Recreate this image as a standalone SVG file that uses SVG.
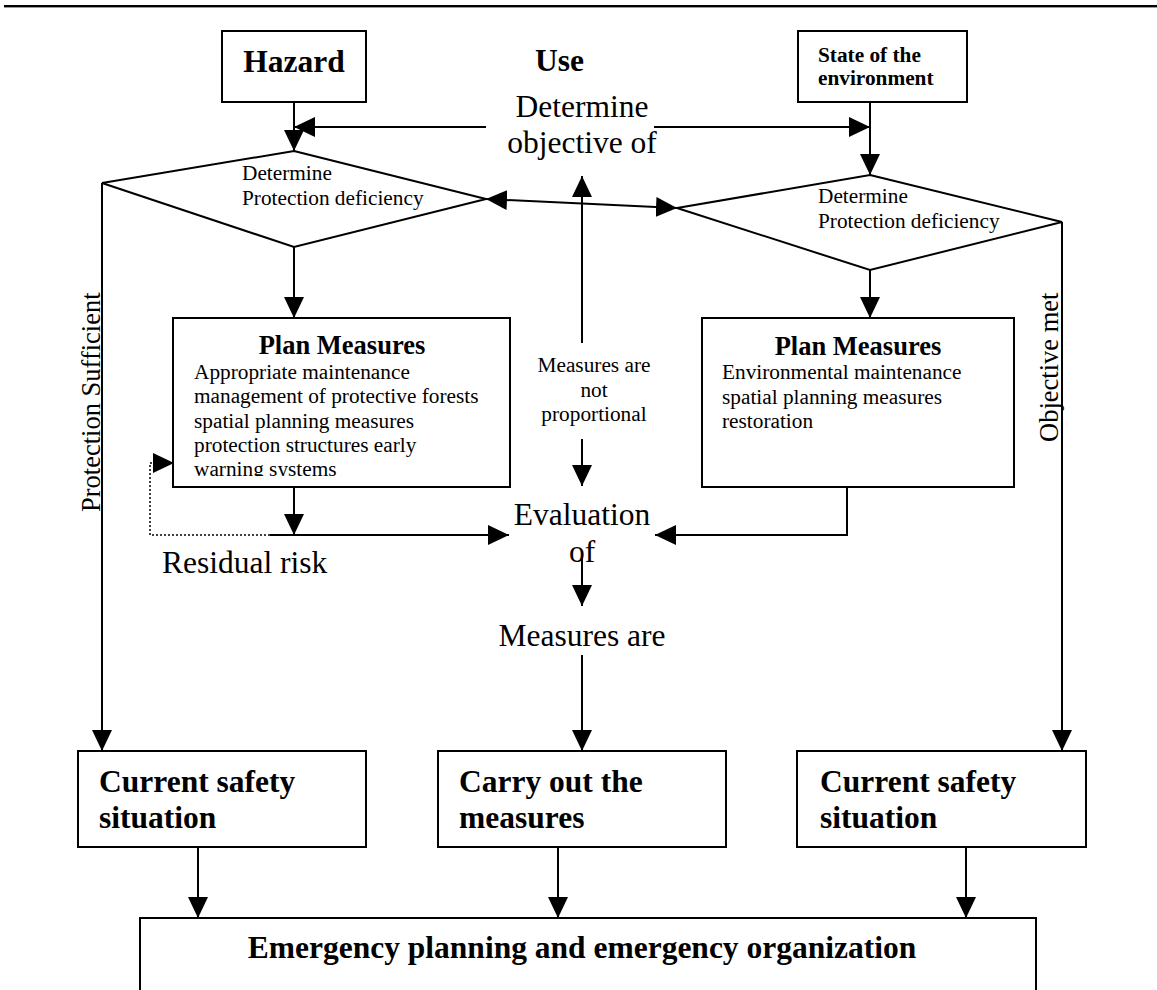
<svg xmlns="http://www.w3.org/2000/svg" width="1157" height="990" viewBox="0 0 1157 990">
<defs>
<marker id="ah" markerUnits="userSpaceOnUse" markerWidth="22" markerHeight="20" refX="21" refY="10" orient="auto-start-reverse"><path d="M0,0 L21,10 L0,20 z" fill="#000"/></marker>
<clipPath id="clipL"><rect x="174" y="319" width="336" height="157"/></clipPath>
</defs>
<style>
.box{fill:#fff;stroke:#000;stroke-width:2}
.ln{fill:none;stroke:#000;stroke-width:2}
.arr{marker-end:url(#ah)}
.dot{fill:none;stroke:#000;stroke-width:1.5;stroke-dasharray:2 2}
text{font-family:"Liberation Serif","Times New Roman",serif;fill:#000}
.big{font-size:31.5px}
.mid{font-size:26.5px}
.sm{font-size:21.3px}
.b{font-weight:bold}
.c{text-anchor:middle}
</style>
<rect width="1157" height="990" fill="#fff"/>
<rect x="4" y="5" width="1153" height="2.4" fill="#000"/>

<g id="connectors">
<path class="ln arr" d="M294,102 V151"/>
<path class="ln arr" d="M486,127 H294"/>
<path class="ln arr" d="M654,127 H870"/>
<path class="ln arr" d="M870,102 V175"/>
<path class="ln arr" d="M486,199 L677,208" marker-start="url(#ah)"/>
<path class="ln arr" d="M582,343 V176"/>
<path class="ln arr" d="M294,247 V318"/>
<path class="ln arr" d="M870,270 V318"/>
<path class="ln arr" d="M582,439 V486"/>
<path class="ln arr" d="M294,487 V535"/>
<path class="ln arr" d="M270,535 H509"/>
<path class="dot arr" d="M270,535 H150 V463 H174"/>
<path class="ln arr" d="M847,487 V535 H655"/>
<path class="ln arr" d="M582,553 V606"/>
<path class="ln arr" d="M582,655 V751"/>
<path class="ln arr" d="M102,183 V751"/>
<path class="ln arr" d="M1062,222 V751"/>
<path class="ln arr" d="M198,847 V918"/>
<path class="ln arr" d="M558,847 V918"/>
<path class="ln arr" d="M966,847 V918"/>
</g>

<g id="hazard">
<rect class="box" x="222" y="31" width="144" height="71"/>
<text class="big b c" x="294" y="72">Hazard</text>
</g>
<g id="use">
<text class="big b" x="535" y="71">Use</text>
</g>
<g id="state">
<rect class="box" x="798" y="31" width="169" height="71"/>
<text class="sm b" x="818" y="62">State of the</text>
<text class="sm b" x="818" y="85">environment</text>
</g>
<g id="objective">
<text class="big c" x="582" y="117">Determine</text>
<text class="big c" x="582" y="153">objective of</text>
</g>
<g id="diamondL">
<polygon class="box" points="294,151 486,199 294,247 102,183"/>
<text class="sm" x="242" y="180">Determine</text>
<text class="sm" x="242" y="205">Protection deficiency</text>
</g>
<g id="diamondR">
<polygon class="box" points="870,175 1062,222 870,270 677,208"/>
<text class="sm" x="818" y="203">Determine</text>
<text class="sm" x="818" y="228">Protection deficiency</text>
</g>
<g id="planL">
<rect class="box" x="173" y="318" width="337" height="169"/>
<text class="mid b c" x="342" y="354">Plan Measures</text>
<g clip-path="url(#clipL)">
<text class="sm" x="194" y="379">Appropriate maintenance</text>
<text class="sm" x="194" y="403">management of protective forests</text>
<text class="sm" x="194" y="428">spatial planning measures</text>
<text class="sm" x="194" y="452">protection structures early</text>
<text class="sm" x="194" y="476">warning systems</text>
</g>
</g>
<g id="planR">
<rect class="box" x="702" y="318" width="312" height="169"/>
<text class="mid b c" x="858" y="355">Plan Measures</text>
<text class="sm" x="722" y="379">Environmental maintenance</text>
<text class="sm" x="722" y="404">spatial planning measures</text>
<text class="sm" x="722" y="428">restoration</text>
</g>
<g id="notProportional">
<text class="sm c" x="594" y="372">Measures are</text>
<text class="sm c" x="594" y="397">not</text>
<text class="sm c" x="594" y="421">proportional</text>
</g>
<g id="evaluation">
<text class="big c" x="582" y="525">Evaluation</text>
<text class="big c" x="582" y="562">of</text>
</g>
<g id="residual">
<text class="big" x="162" y="573">Residual risk</text>
</g>
<g id="measuresAre">
<text class="big c" x="582" y="646">Measures are</text>
</g>
<g id="protectionSufficient">
<text class="mid" transform="translate(100,512) rotate(-90)">Protection Sufficient</text>
</g>
<g id="objectiveMet">
<text class="mid" transform="translate(1058,442) rotate(-90)">Objective met</text>
</g>
<g id="currentL">
<rect class="box" x="78" y="751" width="288" height="96"/>
<text class="big b" x="99" y="792">Current safety</text>
<text class="big b" x="99" y="828">situation</text>
</g>
<g id="carry">
<rect class="box" x="438" y="751" width="288" height="96"/>
<text class="big b" x="459" y="792">Carry out the</text>
<text class="big b" x="459" y="828">measures</text>
</g>
<g id="currentR">
<rect class="box" x="797" y="751" width="289" height="96"/>
<text class="big b" x="820" y="792">Current safety</text>
<text class="big b" x="820" y="828">situation</text>
</g>
<g id="emergency">
<rect class="box" x="140" y="918" width="896" height="80"/>
<text class="big b c" x="582" y="958">Emergency planning and emergency organization</text>
</g>
</svg>
